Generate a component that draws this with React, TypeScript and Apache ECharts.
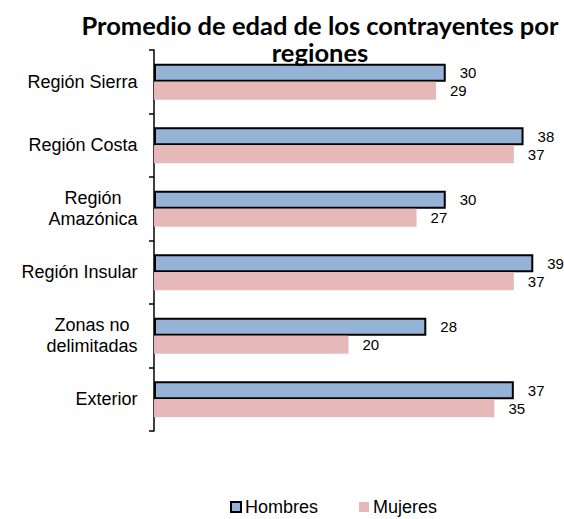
import React, { useEffect, useRef } from "react";
import * as echarts from "echarts";

const titleText = "Promedio de edad de los contrayentes por\nregiones";
const categories = [
  "Región Sierra",
  "Región Costa",
  "Región\nAmazónica",
  "Región Insular",
  "Zonas no\ndelimitadas",
  "Exterior",
];
const seriesNames = ["Hombres", "Mujeres"];
const hombres = [30, 38, 30, 39, 28, 37];
const mujeres = [29, 37, 27, 37, 20, 35];

const LABEL_FONT = '18px "Liberation Sans", Arial, sans-serif';

function measure(text: string): number {
  const c = document.createElement("canvas");
  const ctx = c.getContext("2d");
  if (!ctx) return text.length * 9;
  ctx.font = LABEL_FONT;
  return ctx.measureText(text).width;
}

export default function App() {
  const ref = useRef<HTMLDivElement>(null);

  useEffect(() => {
    if (!ref.current) return;
    const chart = echarts.init(ref.current, undefined, { renderer: "svg" });

    const rich: Record<string, any> = {};
    categories.forEach((cat, i) => {
      const lines = cat.split("\n");
      const w = Math.ceil(Math.max(...lines.map(measure)));
      rich["c" + i] = {
        width: w,
        align: "center",
        fontSize: 18,
        fontFamily: '"Liberation Sans", Arial, sans-serif',
        color: "#000",
        lineHeight: 21,
      };
    });

    chart.setOption({
      animation: false,
      backgroundColor: "#fff",
      title: {
        text: titleText,
        left: 315,
        top: 6,
        textAlign: "center",
        textStyle: {
          fontFamily: "Lato, sans-serif",
          fontWeight: "bold",
          fontSize: 25.5,
          lineHeight: 27,
          color: "#000",
          align: "center",
        },
      },
      legend: {
        left: 230,
        top: 498,
        padding: 0,
        itemWidth: 10,
        itemHeight: 10,
        itemGap: 41,
        icon: "rect",
        textStyle: {
          fontFamily: '"Liberation Sans", Arial, sans-serif',
          fontSize: 18,
          color: "#000",
          padding: [0, 0, 0, -1],
        },
        data: seriesNames,
      },
      grid: {
        left: 154,
        right: 21,
        top: 50,
        bottom: 88,
        containLabel: false,
      },
      xAxis: {
        type: "value",
        min: 0,
        max: 40,
        show: false,
      },
      yAxis: {
        type: "category",
        inverse: true,
        data: categories,
        axisLine: { show: true, lineStyle: { color: "#000", width: 1.5 } },
        axisTick: { show: true, length: 5, inside: false, lineStyle: { color: "#000", width: 1.5 } },
        splitLine: { show: false },
        axisLabel: {
          margin: 16,
          formatter: (value: string, idx: number) =>
            value
              .split("\n")
              .map((l) => `{c${idx}|${l}}`)
              .join("\n"),
          rich,
        },
      },
      series: [
        {
          name: seriesNames[0],
          type: "bar",
          data: hombres,
          barWidth: 18,
          barGap: "0%",
          itemStyle: { color: "#95B3D7", borderColor: "#000", borderWidth: 2 },
          label: {
            show: true,
            position: "right",
            distance: 14,
            color: "#000",
            fontSize: 15,
            fontFamily: '"Liberation Sans", Arial, sans-serif',
          },
        },
        {
          name: seriesNames[1],
          type: "bar",
          data: mujeres,
          barWidth: 18,
          barGap: "0%",
          itemStyle: { color: "#E6B9B8" },
          label: {
            show: true,
            position: "right",
            distance: 14,
            color: "#000",
            fontSize: 15,
            fontFamily: '"Liberation Sans", Arial, sans-serif',
          },
        },
      ],
    });

    return () => chart.dispose();
  }, []);

  return (
    <div
      ref={ref}
      style={{ position: "fixed", left: 0, top: 0, width: 564, height: 519 }}
    />
  );
}
